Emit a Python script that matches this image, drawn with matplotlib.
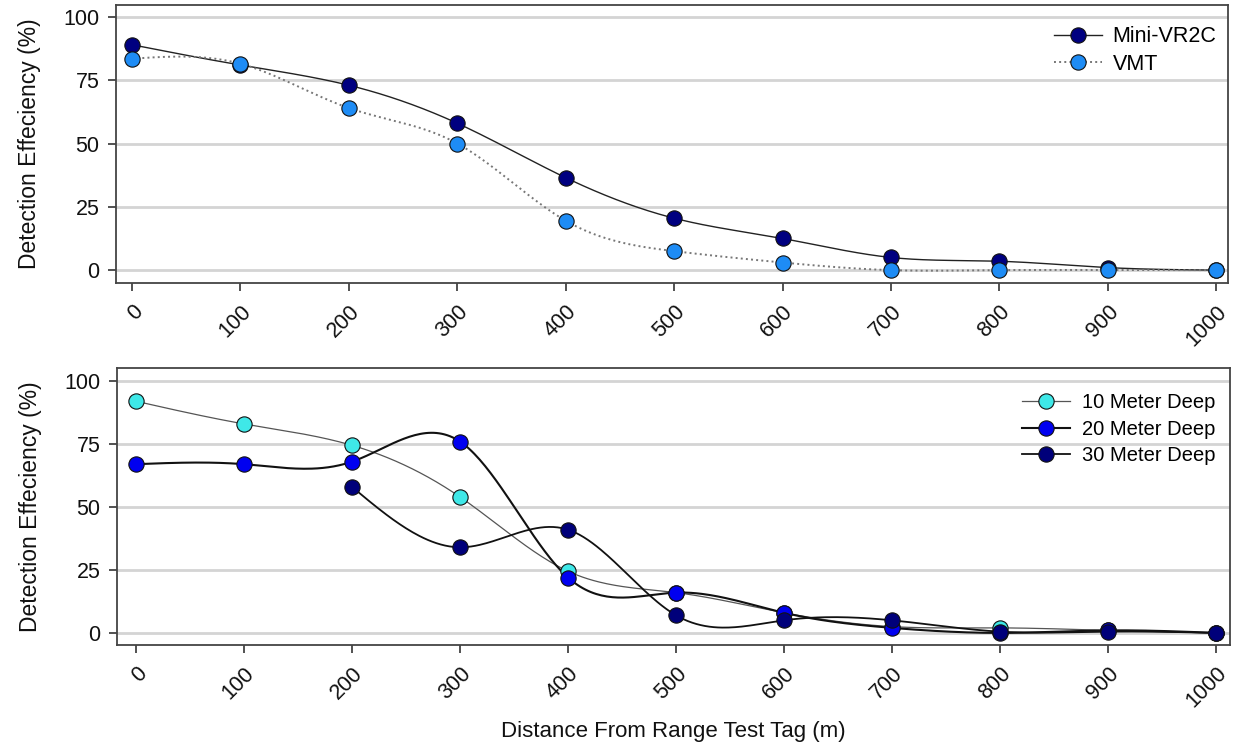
import numpy as np
import matplotlib
matplotlib.use("Agg")
import matplotlib.pyplot as plt

plt.rcParams['font.family'] = ['Liberation Sans', 'DejaVu Sans']

distance = [0, 100, 200, 300, 400, 500, 600, 700, 800, 900, 1000]
tick_labels = ['0', '100', '200', '300', '400', '500', '600', '700', '800', '900', '1000']

mini_vr2c = [89, 81, 73, 58, 36.5, 20.5, 12.5, 5, 3.5, 1, 0]
vmt = [83.5, 81.5, 64, 50, 19.5, 7.5, 3, 0, 0, 0, 0]

deep10 = [92, 83, 74.5, 54, 24.5, 16, 8, 2.5, 2, 1, 0]
deep20 = [67, 67, 68, 76, 22, 16, 8, 2, 0, 1, 0]
deep30 = [np.nan, np.nan, 58, 34, 41, 7, 5, 5, 0.5, 0.5, 0]


def natural_spline(x, y, n=400):
    x = np.asarray(x, float)
    y = np.asarray(y, float)
    m = ~np.isnan(y)
    x, y = x[m], y[m]
    k = len(x)
    h = np.diff(x)
    A = np.zeros((k, k))
    b = np.zeros(k)
    A[0, 0] = 1
    A[-1, -1] = 1
    for i in range(1, k - 1):
        A[i, i - 1] = h[i - 1]
        A[i, i] = 2 * (h[i - 1] + h[i])
        A[i, i + 1] = h[i]
        b[i] = 6 * ((y[i + 1] - y[i]) / h[i] - (y[i] - y[i - 1]) / h[i - 1])
    M = np.linalg.solve(A, b)
    xs = np.linspace(x[0], x[-1], n)
    ys = np.empty_like(xs)
    for j, xv in enumerate(xs):
        i = min(np.searchsorted(x, xv, side='right') - 1, k - 2)
        t1 = x[i + 1] - xv
        t0 = xv - x[i]
        ys[j] = (M[i] * t1 ** 3 + M[i + 1] * t0 ** 3) / (6 * h[i]) \
            + (y[i] / h[i] - M[i] * h[i] / 6) * t1 \
            + (y[i + 1] / h[i] - M[i + 1] * h[i] / 6) * t0
    return xs, ys


fig = plt.figure(figsize=(12.38, 7.46), dpi=100)
ax1 = fig.add_axes([0.0937, 0.6206, 0.8983, 0.3727])
ax2 = fig.add_axes([0.0945, 0.1354, 0.8990, 0.3713])

ms = 11


def style(ax, ylim, xlim):
    ax.set_xlim(*xlim)
    ax.set_ylim(*ylim)
    ax.set_yticks([0, 25, 50, 75, 100])
    ax.set_xticks(distance)
    ax.set_xticklabels(tick_labels, rotation=45, ha='right', va='top',
                       rotation_mode='anchor')
    ax.yaxis.grid(True, color='#d4d4d4', linewidth=2)
    ax.set_axisbelow(True)
    ax.tick_params(axis='both', labelsize=15.5, direction='out', length=6,
                   width=1.2, color='#333333', labelcolor='#111111')
    ax.tick_params(axis='y', pad=6)
    ax.tick_params(axis='x', pad=7)
    for s in ax.spines.values():
        s.set_color('#444444')
        s.set_linewidth(1.3)
    ax.set_ylabel('Detection Effeciency (%)', fontsize=16.5, labelpad=16,
                  color='#111111')


def series(ax, x, y, color, ls, lc, lw, label):
    xs, ys = natural_spline(x, y)
    ax.plot(xs, ys, color=lc, linestyle=ls, linewidth=lw, zorder=2)
    ax.plot(x, y, linestyle='none', marker='o', markersize=ms,
            markerfacecolor=color, markeredgecolor='#111111',
            markeredgewidth=0.8, zorder=3)
    h, = ax.plot([], [], color=lc, linestyle=ls, linewidth=lw, marker='o',
                 markersize=ms, markerfacecolor=color,
                 markeredgecolor='#111111', markeredgewidth=0.8, label=label)
    return h


series(ax1, distance, mini_vr2c, '#000080', '-', '#222222', 1.0, 'Mini-VR2C')
series(ax1, distance, vmt, '#1E8CF5', ':', '#777777', 1.4, 'VMT')
style(ax1, (-5.1, 104.7), (-14.8, 1011))
ax1.legend(loc='upper right', frameon=False, fontsize=15.5,
           handlelength=2.2, handletextpad=0.5, labelspacing=0.3,
           bbox_to_anchor=(1.003, 0.978), borderaxespad=0.3)

series(ax2, distance, deep10, '#3FE8E8', '-', '#555555', 0.9, '10 Meter Deep')
series(ax2, distance, deep20, '#0000F0', '-', '#111111', 1.5, '20 Meter Deep')
series(ax2, distance, deep30, '#00007A', '-', '#111111', 1.3, '30 Meter Deep')
style(ax2, (-4.8, 105.2), (-17.6, 1013))
ax2.legend(loc='upper right', frameon=False, fontsize=14.5,
           handlelength=2.4, handletextpad=0.6, labelspacing=0.38,
           bbox_to_anchor=(1.0, 0.96), borderaxespad=0.3)
fig.text(0.0945 + 0.8990 / 2, 1 - 732 / 746, 'Distance From Range Test Tag (m)',
         fontsize=16, color='#111111', ha='center', va='center')

fig.savefig('out.png', dpi=100)
